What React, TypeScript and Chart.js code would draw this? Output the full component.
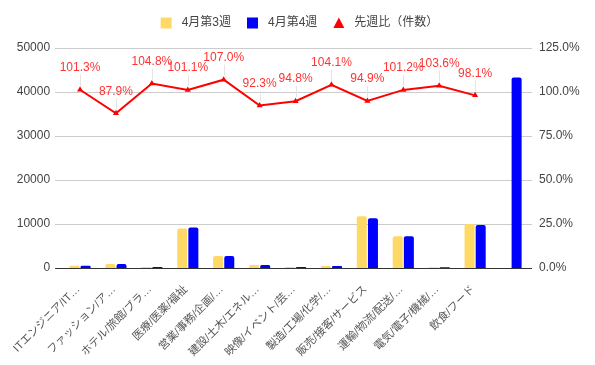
import React, { useEffect, useRef } from 'react';
import { Chart, registerables } from 'chart.js';

Chart.register(...registerables);

const categories = [
  'ITエンジニア/IT…',
  'ファッション/ア…',
  'ホテル/旅館/ブラ…',
  '医療/医薬/福祉',
  '営業/事務/企画/…',
  '建設/土木/エネル…',
  '映像/イベント/芸…',
  '製造/工場/化学/…',
  '販売/接客/サービス',
  '運輸/物流/配送/…',
  '電気/電子/機械/…',
  '飲食/フード',
  '',
];
const week3 = [520, 900, 250, 9000, 2700, 700, 250, 450, 11750, 7200, 150, 10000, null];
const week4 = [520, 900, 250, 9200, 2700, 700, 200, 450, 11300, 7200, 150, 9800, 43300];
const ratio = [101.3, 87.9, 104.8, 101.1, 107.0, 92.3, 94.8, 104.1, 94.9, 101.2, 103.6, 98.1, null];
const seriesNames = ['4月第3週', '4月第4週', '先週比（件数）'];
const colors = ['#ffd966', '#0000ff', '#ff0000'];

const FONT = "Arial, 'Liberation Sans', 'Noto Sans CJK JP', sans-serif";

const gridPlugin = {
  id: 'customGrid',
  beforeDatasetsDraw(chart: any) {
    const { ctx, chartArea, scales } = chart;
    const y = scales.y;
    ctx.save();
    y.ticks.forEach((t: any) => {
      const py = Math.round(y.getPixelForValue(t.value)) + 0.5;
      ctx.strokeStyle = t.value === 0 ? '#333333' : '#cccccc';
      ctx.lineWidth = 1;
      ctx.beginPath();
      ctx.moveTo(chartArea.left - 7, py);
      ctx.lineTo(chartArea.right + 3, py);
      ctx.stroke();
    });
    ctx.restore();
  },
};

const labelPlugin = {
  id: 'pointLabels',
  afterDatasetsDraw(chart: any) {
    const { ctx } = chart;
    const meta = chart.getDatasetMeta(2);
    ctx.save();
    meta.data.forEach((pt: any, i: number) => {
      const v = ratio[i];
      if (v === null || v === undefined) return;
      const x = Math.round(pt.x) + 0.5;
      const y = pt.y;
      ctx.strokeStyle = '#e4e4e4';
      ctx.lineWidth = 1;
      ctx.beginPath();
      ctx.moveTo(x, y - 4);
      ctx.lineTo(x, y - 15);
      ctx.stroke();
      ctx.fillStyle = '#ff3333';
      ctx.font = `12px ${FONT}`;
      ctx.textAlign = 'center';
      ctx.textBaseline = 'middle';
      ctx.fillText(v.toFixed(1) + '%', pt.x, y - 22);
    });
    ctx.restore();
  },
};

const legendPlugin = {
  id: 'customLegend',
  afterDraw(chart: any) {
    const { ctx, width } = chart;
    ctx.save();
    ctx.font = `12px ${FONT}`;
    const box = 11;
    const gapText = 10;
    const gapItem = 16;
    const widths = seriesNames.map((n) => box + gapText + ctx.measureText(n).width);
    const total = widths.reduce((a, b) => a + b, 0) + gapItem * (seriesNames.length - 1);
    let x = width / 2 - total / 2 + 2;
    const cy = 23;
    seriesNames.forEach((n, i) => {
      ctx.fillStyle = colors[i];
      if (i < 2) {
        ctx.fillRect(x, cy - box / 2, box, box);
      } else {
        ctx.beginPath();
        ctx.moveTo(x + box / 2, cy - 5.5);
        ctx.lineTo(x + box, cy + 5);
        ctx.lineTo(x, cy + 5);
        ctx.closePath();
        ctx.fill();
      }
      ctx.fillStyle = '#444444';
      ctx.textAlign = 'left';
      ctx.textBaseline = 'middle';
      ctx.fillText(n, x + box + gapText, cy);
      x += widths[i] + gapItem;
    });
    ctx.restore();
  },
};

export default function App() {
  const ref = useRef<HTMLCanvasElement>(null);
  useEffect(() => {
    if (!ref.current) return;
    const chart = new Chart(ref.current, {
      type: 'bar',
      data: {
        labels: categories,
        datasets: [
          {
            type: 'bar',
            label: seriesNames[0],
            data: week3,
            backgroundColor: colors[0],
            borderRadius: 2,
            yAxisID: 'y',
            order: 2,
          } as any,
          {
            type: 'bar',
            label: seriesNames[1],
            data: week4,
            backgroundColor: colors[1],
            borderRadius: 2,
            yAxisID: 'y',
            order: 2,
          } as any,
          {
            type: 'line',
            label: seriesNames[2],
            data: ratio,
            borderColor: colors[2],
            backgroundColor: colors[2],
            borderWidth: 2,
            pointStyle: 'triangle',
            pointRadius: 3.5,
            pointBorderWidth: 0,
            yAxisID: 'y1',
            order: 1,
            spanGaps: false,
          } as any,
        ],
      },
      options: {
        responsive: false,
        animation: false,
        events: [],
        layout: { padding: { top: 48, left: 0, right: 0, bottom: 0 } },
        datasets: {
          bar: { categoryPercentage: 0.62, barPercentage: 0.9 },
        },
        plugins: {
          legend: { display: false },
          tooltip: { enabled: false },
        },
        scales: {
          x: {
            offset: true,
            grid: { display: false, drawTicks: false },
            border: { display: false },
            ticks: {
              autoSkip: false,
              maxRotation: 45,
              minRotation: 45,
              padding: 15,
              labelOffset: -2,
              color: '#555555',
              font: { size: 11, family: FONT },
            },
            afterFit: (s: any) => {
              s.height = 97;
            },
          },
          y: {
            position: 'left',
            min: 0,
            max: 50000,
            grid: { display: false, drawTicks: false },
            border: { display: false },
            ticks: {
              stepSize: 10000,
              padding: 12,
              color: '#444444',
              font: { size: 12, family: FONT },
              callback: (v: any) => String(v),
            },
            afterFit: (s: any) => {
              s.width = 62;
            },
          },
          y1: {
            position: 'right',
            min: 0,
            max: 125,
            grid: { display: false, drawTicks: false },
            border: { display: false },
            ticks: {
              stepSize: 25,
              padding: 10,
              color: '#444444',
              font: { size: 12, family: FONT },
              callback: (v: any) => Number(v).toFixed(1) + '%',
            },
            afterFit: (s: any) => {
              s.width = 66;
            },
          },
        },
      },
      plugins: [gridPlugin, labelPlugin, legendPlugin],
    });
    return () => chart.destroy();
  }, []);
  return (
    <div style={{ position: 'fixed', left: 0, top: 0, width: 595, height: 365, background: '#fff' }}>
      <canvas ref={ref} width={595} height={365} />
    </div>
  );
}
